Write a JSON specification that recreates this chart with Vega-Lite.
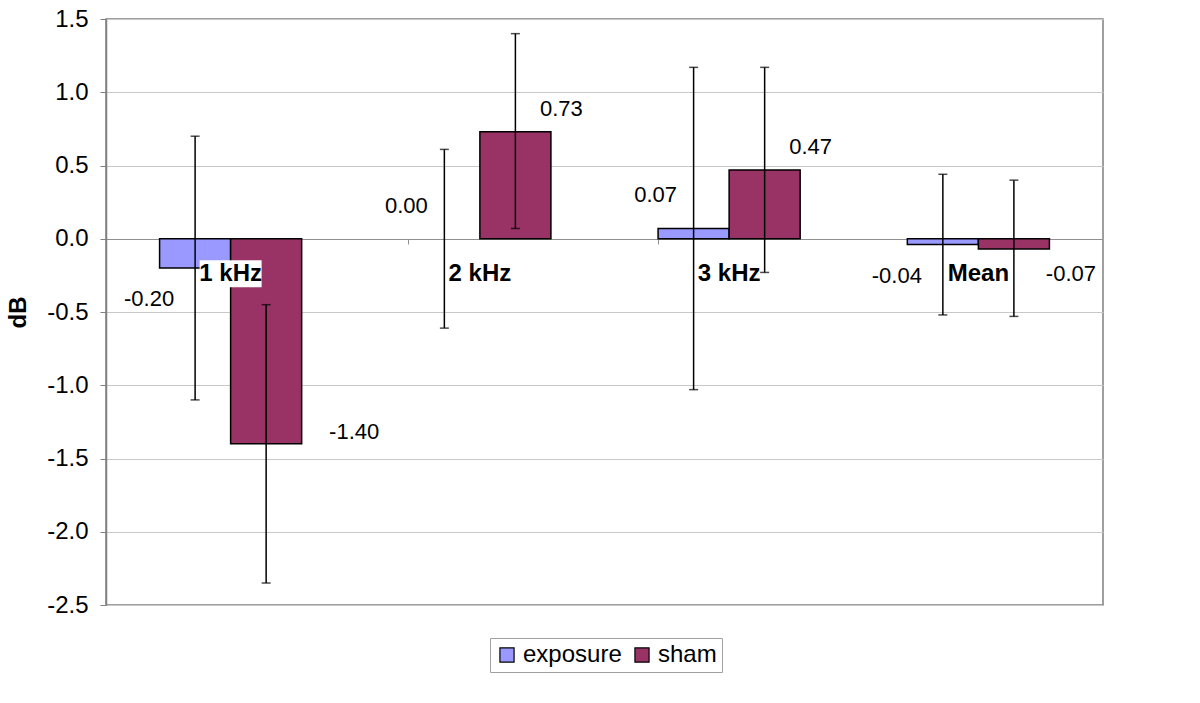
{
  "$schema": "https://vega.github.io/schema/vega-lite/v6.json",
  "width": 997,
  "height": 586,
  "autosize": {"type": "none"},
  "padding": {"left": 106, "top": 19, "right": 97, "bottom": 98},
  "background": "white",
  "config": {
    "font": "Liberation Sans",
    "locale": {"number": {"decimal": ".", "thousands": ",", "grouping": [3], "currency": ["$", ""], "minus": "-"}},
    "view": {"stroke": "#808080", "strokeWidth": 1.5},
    "text": {"font": "Liberation Sans", "fontSize": 22, "color": "black", "baseline": "middle", "align": "center"}
  },
  "data": {
    "values": [
      {"freq": "1 kHz", "group": "exposure", "value": -0.20, "lo": -1.10, "hi": 0.70},
      {"freq": "1 kHz", "group": "sham", "value": -1.40, "lo": -2.35, "hi": -0.45},
      {"freq": "2 kHz", "group": "exposure", "value": 0.00, "lo": -0.61, "hi": 0.61},
      {"freq": "2 kHz", "group": "sham", "value": 0.73, "lo": 0.07, "hi": 1.40},
      {"freq": "3 kHz", "group": "exposure", "value": 0.07, "lo": -1.03, "hi": 1.17},
      {"freq": "3 kHz", "group": "sham", "value": 0.47, "lo": -0.23, "hi": 1.17},
      {"freq": "Mean", "group": "exposure", "value": -0.04, "lo": -0.52, "hi": 0.44},
      {"freq": "Mean", "group": "sham", "value": -0.07, "lo": -0.53, "hi": 0.40}
    ]
  },
  "encoding": {
    "x": {
      "field": "freq", "type": "nominal",
      "sort": ["1 kHz", "2 kHz", "3 kHz", "Mean"],
      "scale": {"paddingInner": 0.43, "paddingOuter": 0.215},
      "axis": {
        "orient": "bottom", "offset": -366, "labels": false, "title": null,
        "domain": true, "domainColor": "#909090", "domainWidth": 1,
        "ticks": true, "tickSize": 5, "tickColor": "#909090", "bandPosition": 0, "grid": false
      }
    }
  },
  "layer": [
    {
      "mark": {"type": "bar", "stroke": "black", "strokeWidth": 1.5},
      "encoding": {
        "xOffset": {"field": "group", "type": "nominal", "scale": {"domain": ["exposure", "sham"], "paddingInner": 0, "paddingOuter": 0}},
        "y": {
          "field": "value", "type": "quantitative",
          "scale": {"domain": [-2.5, 1.5], "nice": false, "zero": false},
          "axis": {
            "title": "dB", "titleFontSize": 24, "titleFontWeight": "bold", "titleColor": "black", "titlePadding": 16,
            "values": [-2.5, -2, -1.5, -1, -0.5, 0, 0.5, 1, 1.5], "format": ".1f",
            "labelFontSize": 24, "labelColor": "black", "labelPadding": 12,
            "tickSize": 6, "tickColor": "#808080", "domainColor": "#808080", "domainWidth": 1.5,
            "grid": true, "gridColor": "#c8c8c8", "gridWidth": 1
          }
        },
        "color": {
          "field": "group", "type": "nominal",
          "scale": {"domain": ["exposure", "sham"], "range": ["#9999FF", "#993366"]},
          "legend": {
            "orient": "none", "legendX": 384, "legendY": 619, "direction": "horizontal", "title": null,
            "strokeColor": "#a0a0a0", "padding": 5,
            "symbolType": "square", "symbolSize": 200, "symbolStrokeColor": "black", "symbolStrokeWidth": 1.2, "symbolOpacity": 1,
            "labelFontSize": 24, "labelColor": "black", "labelFont": "Liberation Sans", "columnPadding": 8, "labelOffset": 4
          }
        },
        "strokeOpacity": {"condition": {"test": "datum.value == 0", "value": 0}, "value": 1}
      }
    },
    {
      "transform": [{"filter": "datum.group == 'exposure'"}],
      "mark": {"type": "point", "shape": "M-1,-0.435H1V0.435H-1Z", "size": 3844, "filled": true, "fill": "white", "opacity": 1, "strokeWidth": 0, "yOffset": 35},
      "encoding": {"y": {"datum": 0, "type": "quantitative", "title": "dB"}}
    },
    {
      "mark": {"type": "rule", "color": "black", "strokeWidth": 1.5},
      "encoding": {
        "xOffset": {"field": "group", "type": "nominal"},
        "y": {"field": "lo", "type": "quantitative", "title": "dB"},
        "y2": {"field": "hi"}
      }
    },
    {
      "mark": {"type": "tick", "color": "black", "thickness": 1.5, "size": 9, "orient": "horizontal"},
      "encoding": {
        "xOffset": {"field": "group", "type": "nominal"},
        "y": {"field": "lo", "type": "quantitative", "title": "dB"}
      }
    },
    {
      "mark": {"type": "tick", "color": "black", "thickness": 1.5, "size": 9, "orient": "horizontal"},
      "encoding": {
        "xOffset": {"field": "group", "type": "nominal"},
        "y": {"field": "hi", "type": "quantitative", "title": "dB"}
      }
    },
    {
      "transform": [{"filter": "datum.group == 'exposure'"}],
      "mark": {"type": "text", "fontWeight": "bold", "fontSize": 24, "dy": 35},
      "encoding": {
        "y": {"datum": 0, "type": "quantitative", "title": "dB"},
        "text": {"field": "freq"}
      }
    },
    {
      "transform": [{"filter": "datum.group == 'exposure' && datum.value >= 0"}],
      "mark": {"type": "text", "dx": -38, "dy": -33},
      "encoding": {
        "xOffset": {"field": "group", "type": "nominal"},
        "y": {"field": "value", "type": "quantitative", "title": "dB"},
        "text": {"field": "value", "format": ".2f"}
      }
    },
    {
      "transform": [{"filter": "datum.group == 'exposure' && datum.value < 0"}],
      "mark": {"type": "text", "dx": -46, "dy": 31},
      "encoding": {
        "xOffset": {"field": "group", "type": "nominal"},
        "y": {"field": "value", "type": "quantitative", "title": "dB"},
        "text": {"field": "value", "format": ".2f"}
      }
    },
    {
      "transform": [{"filter": "datum.group == 'sham' && datum.value >= 0"}],
      "mark": {"type": "text", "dx": 46, "dy": -23},
      "encoding": {
        "xOffset": {"field": "group", "type": "nominal"},
        "y": {"field": "value", "type": "quantitative", "title": "dB"},
        "text": {"field": "value", "format": ".2f"}
      }
    },
    {
      "transform": [{"filter": "datum.group == 'sham' && datum.value < 0 && datum.value > -1"}],
      "mark": {"type": "text", "dx": 57, "dy": 25},
      "encoding": {
        "xOffset": {"field": "group", "type": "nominal"},
        "y": {"field": "value", "type": "quantitative", "title": "dB"},
        "text": {"field": "value", "format": ".2f"}
      }
    },
    {
      "transform": [{"filter": "datum.group == 'sham' && datum.value <= -1"}],
      "mark": {"type": "text", "dx": 88, "dy": -12},
      "encoding": {
        "xOffset": {"field": "group", "type": "nominal"},
        "y": {"field": "value", "type": "quantitative", "title": "dB"},
        "text": {"field": "value", "format": ".2f"}
      }
    }
  ]
}
